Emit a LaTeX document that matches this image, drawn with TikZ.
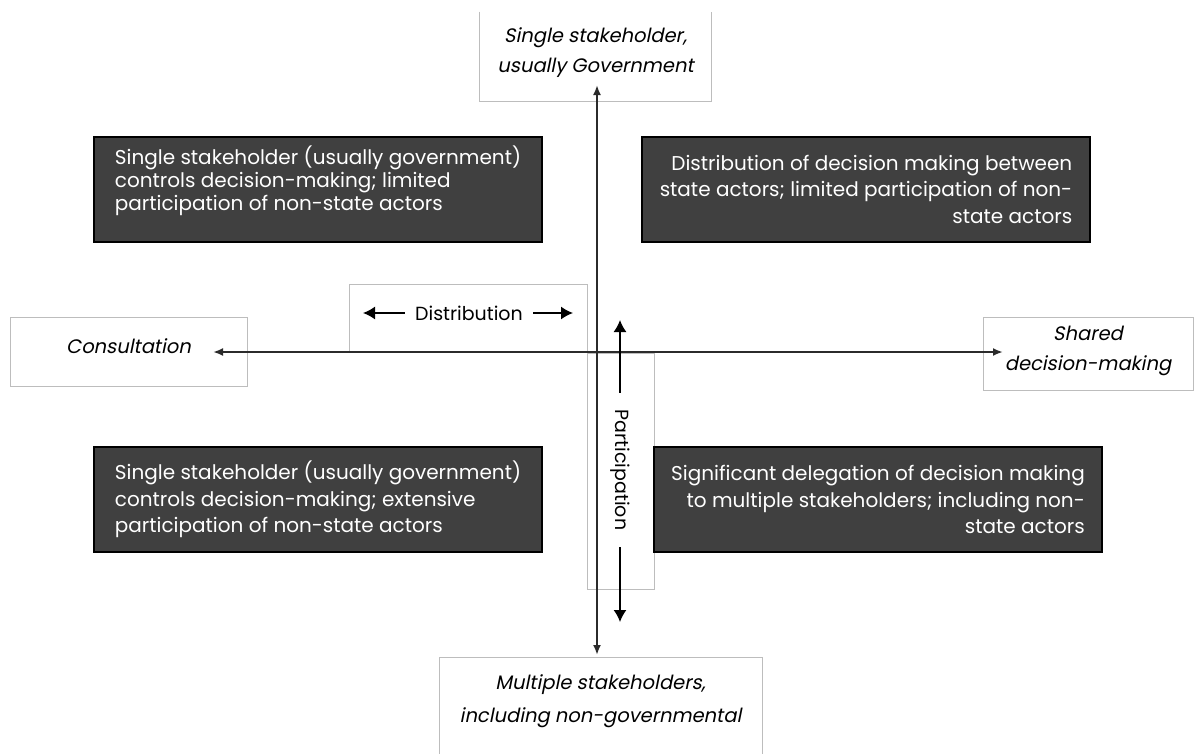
\documentclass[tikz,border=0pt]{standalone}
\usepackage{fontspec}
\setmainfont{Poppins}
\newfontfamily\slfont{Poppins}[FakeSlant=0.2]
\usetikzlibrary{arrows.meta}
\definecolor{boxgray}{HTML}{404040}
\definecolor{rimgray}{HTML}{BDBDBD}
\definecolor{axisgray}{HTML}{2B2B2B}
\tikzstyle{darkbox}=[draw=black, line width=2pt, fill=boxgray, text=white, minimum width=448pt, minimum height=105pt, font=\fontsize{20}{26.5}\selectfont]
\tikzstyle{whitebox}=[draw=rimgray, line width=1pt, fill=white, align=center, font=\slfont\fontsize{19.5}{30}\selectfont]
\tikzstyle{axis}=[draw=axisgray, line width=2pt]
\tikzstyle{pointer}=[line width=1.5pt, >={Latex[length=12pt,width=13pt]}]
\tikzstyle{caption}=[font=\fontsize{19}{22}\selectfont]

\begin{document}
\begin{tikzpicture}[x=1pt, y=-1pt, >={Latex[length=10pt,width=8pt]}]
\clip (0,0) rectangle (1197,753);
\fill[white] (0,0) rectangle (1197,753);

% end boxes of the two axes
\node[whitebox, draw=none, minimum width=231pt, minimum height=89pt] (gov) at (595.5,56.5) {Single stakeholder,\\usually Government\rule[-12pt]{0pt}{0pt}};
\draw[rimgray, line width=1pt] (gov.north west) |- (gov.south east) -- (gov.north east);
\node[whitebox, minimum width=237pt, minimum height=69pt] (consult) at (128.5,351.5) {Consultation\rule[-10pt]{0pt}{0pt}};
\node[whitebox, minimum width=210pt, minimum height=73pt] (shared) at (1088,353.5) {Shared\\decision-making\rule[-10pt]{0pt}{0pt}};
\node[whitebox, anchor=north, minimum width=323pt, inner ysep=17pt, font=\slfont\fontsize{19.5}{33}\selectfont] (multi) at (600.5,657) {Multiple stakeholders,\\including non-governmental\rule[-60pt]{0pt}{0pt}};

% label boxes
\node[whitebox, minimum width=238pt, minimum height=68pt] (distbox) at (468,318) {};
\node[whitebox, minimum width=67pt, minimum height=236pt] (partbox) at (620.5,471) {};

% quadrants
\node[darkbox, align=left, font=\fontsize{20}{23}\selectfont] (tl) at (318,189.5) {Single stakeholder (usually government)\\controls decision-making; limited\\participation of non-state actors\rule[-22pt]{0pt}{0pt}};
\node[darkbox, align=right] (tr) at (866,189) {Distribution of decision making between\\state actors; limited participation of non-\\state actors};
\node[darkbox, align=left] (bl) at (318,499.5) {Single stakeholder (usually government)\\controls decision-making; extensive\\participation of non-state actors};
\node[darkbox, align=right] (br) at (878,499.5) {Significant delegation of decision making\\to multiple stakeholders; including non-\\state actors};

% axes
\coordinate (govtip) at (597,85);
\coordinate (multtip) at (597,655);
\coordinate (contip) at (213,352);
\coordinate (shtip) at (1003,352);
\draw[<->, axis] (govtip) -- (multtip);
\draw[<->, axis] (contip) -- (shtip);

% distribution and participation
\node[caption, inner xsep=10pt] (distr) at (469,313) {Distribution};
\coordinate (dleft) at (363,313);
\coordinate (dright) at (573,313);
\draw[->, pointer] (distr) -- (dleft);
\draw[->, pointer] (distr) -- (dright);
\node[caption, rotate=-90, inner xsep=17pt] (partl) at (620,470) {Participation};
\coordinate (pup) at (620,320);
\coordinate (pdown) at (620,622);
\draw[->, pointer] (partl) -- (pup);
\draw[->, pointer] (partl) -- (pdown);
\end{tikzpicture}
\end{document}
